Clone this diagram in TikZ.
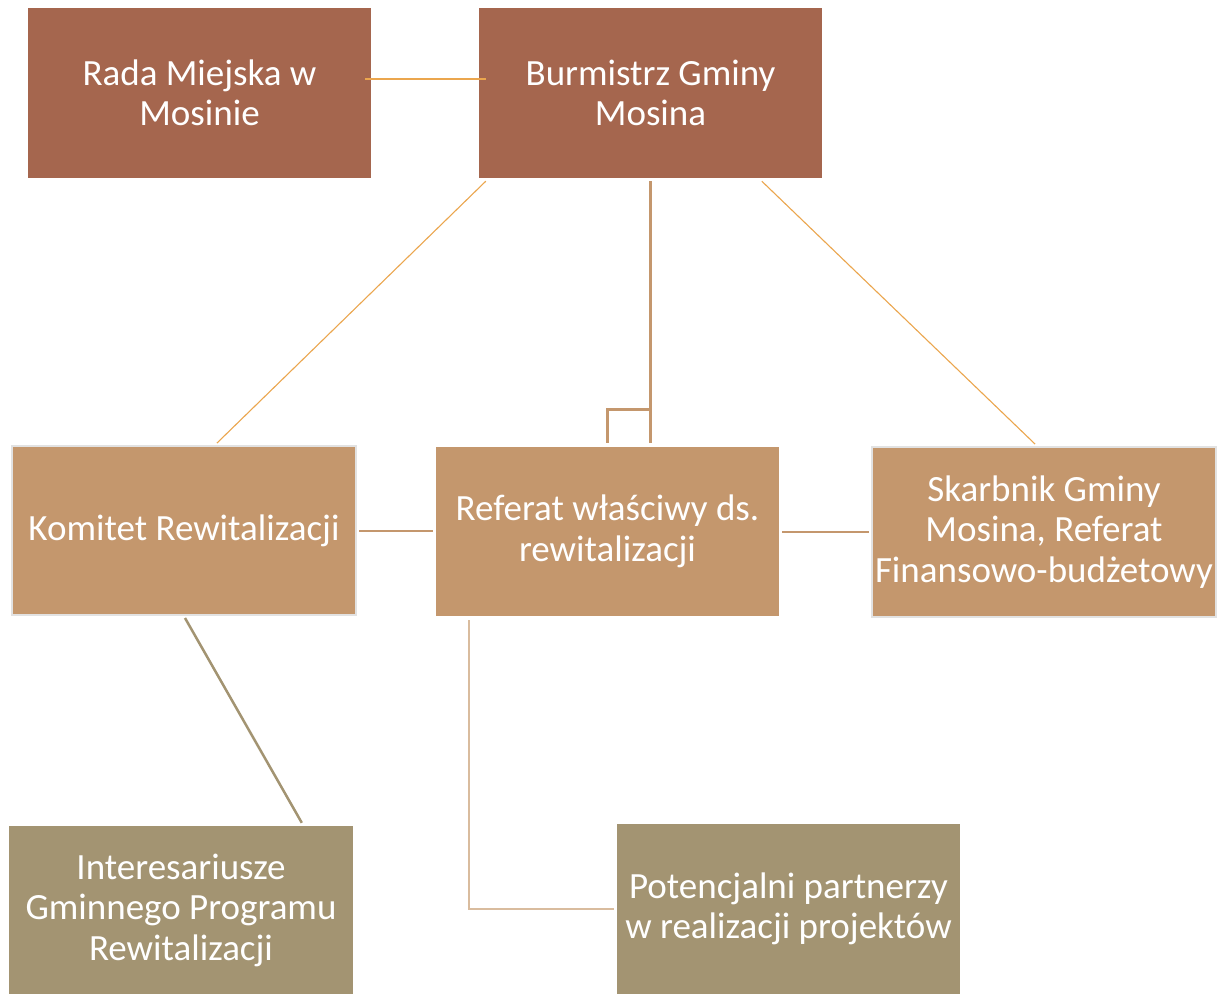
\documentclass[tikz,border=0pt]{standalone}
\usepackage{fontspec}
\setmainfont{Carlito}
\usetikzlibrary{calc}
\definecolor{darkbox}{HTML}{A5664E}
\definecolor{tanbox}{HTML}{C4976D}
\definecolor{olivebox}{HTML}{A39472}
\definecolor{orangeline}{HTML}{EBA64E}
\definecolor{tanline}{HTML}{C4976D}
\definecolor{lightline}{HTML}{D9BC9E}
\definecolor{grayborder}{HTML}{E2E2E2}
\begin{document}
\begin{tikzpicture}[x=1pt,y=-1pt,
  boxbase/.style={rectangle, inner sep=0pt, text=white, align=center,
    font=\fontsize{37}{40.5}\selectfont},
  topbox/.style={boxbase, fill=darkbox},
  midbox/.style={boxbase, fill=tanbox},
  botbox/.style={boxbase, fill=olivebox},
  framed/.style={draw=grayborder, line width=2pt},
  orangelink/.style={draw=orangeline, line width=1.1pt},
  tanlink/.style={draw=tanline, line width=2pt},
  thicklink/.style={draw=tanline, line width=3pt},
  lightlink/.style={draw=lightline, line width=2pt},
  olivelink/.style={draw=olivebox, line width=2.5pt}]
\useasboundingbox (0,0) rectangle (1225,994);
\fill[white] (0,0) rectangle (1225,994);

\node[topbox, minimum width=343pt, minimum height=170pt] (rada) at (199.5,93) {Rada Miejska w\\Mosinie};
\node[topbox, minimum width=343pt, minimum height=170pt] (bur) at (650.5,93) {Burmistrz Gminy\\Mosina};
\node[midbox, framed, minimum width=344pt, minimum height=169pt] (kom) at (184,530.5) {Komitet Rewitalizacji};
\node[midbox, minimum width=343pt, minimum height=169pt] (ref) at (607.5,531.5) {Referat właściwy ds.\\rewitalizacji};
\node[midbox, framed, minimum width=344pt, minimum height=170pt] (skar) at (1044,532) {Skarbnik Gminy\\Mosina, Referat\\Finansowo-budżetowy};
\node[botbox, minimum width=344pt, minimum height=168pt] (int) at (181,910) {Interesariusze\\Gminnego Programu\\Rewitalizacji};
\node[botbox, minimum width=343pt, minimum height=170pt] (pot) at (788.5,909) {Potencjalni partnerzy\\w realizacji projektów};

% connectors
\draw[orangelink] ($(rada.east)+(-6,-14)$) -- ($(bur.west)+(7,-14)$);
\draw[orangelink] ($(bur.south west)+(7,3)$) -- ($(kom.north west)+(206,-2)$);
\draw[orangelink] ($(bur.south west)+(283,3)$) -- ($(skar.north west)+(164,-2)$);
\draw[thicklink] ($(bur.south)+(0,3)$) -- ($(bur.south |- ref.north)+(0,-4)$);
\coordinate (brk) at ($(bur.south)+(0,231)$);
\draw[thicklink] (brk) -| ($(ref.north)+(-0.5,-4)$);
\draw[tanlink] ($(kom.east)+(2,0.5)$) -- ($(ref.west)+(-3,-0.5)$);
\draw[tanlink] ($(ref.east)+(3,0.5)$) -- ($(skar.west)+(-2,0)$);
\draw[olivelink] ($(kom.south west)+(174,2)$) -- ($(int.north west)+(293,-3)$);
\draw[lightlink] ($(ref.south west)+(33,4)$) |- ($(pot.west)+(-3,0)$);
\end{tikzpicture}
\end{document}
